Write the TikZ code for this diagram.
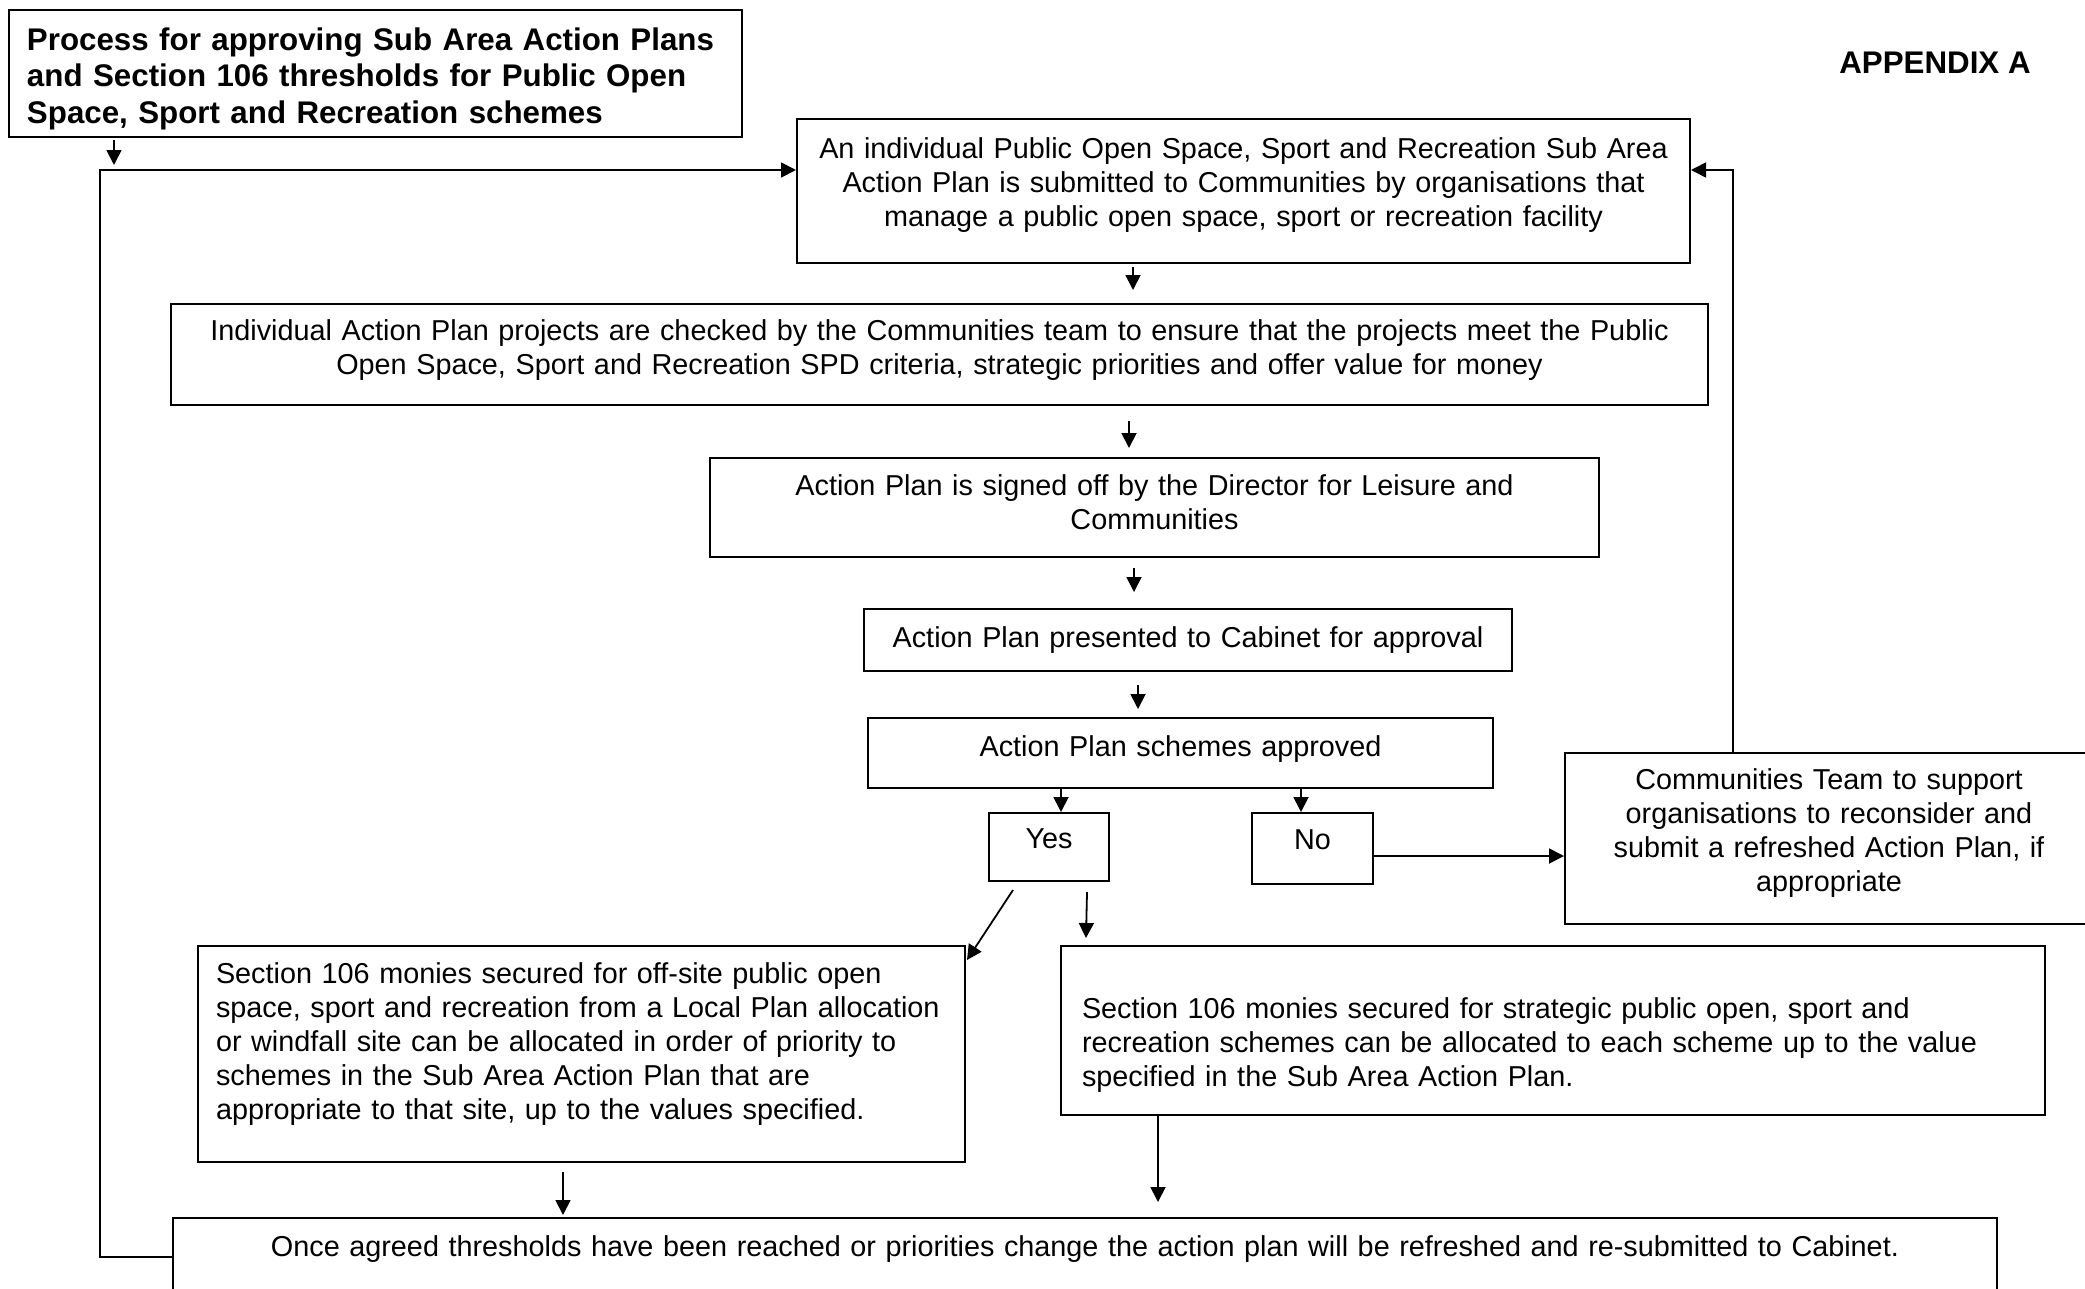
\documentclass[tikz,border=0pt]{standalone}
\usepackage{fontspec}
\setmainfont{Liberation Sans}
\usetikzlibrary{arrows.meta,calc}

\begin{document}
\begin{tikzpicture}[
        x=1pt, y=-1pt,
        box/.style={draw, line width=2pt, rectangle, inner xsep=5pt, inner ysep=0pt,
            font=\fontsize{28.8pt}{34.2pt}\selectfont},
        arr/.style={line width=1.8pt, -{Triangle[length=15pt, width=15pt]}}
    ]
    \useasboundingbox (0,0) rectangle (2085,1288);

    % Title and appendix
    \node[box, anchor=north west, inner xsep=18pt, text width=697pt, align=left,
        text height=40pt, text depth=87pt,
        font=\bfseries\fontsize{31.3pt}{36.5pt}\selectfont] (title) at (8,9)
        {Process for approving Sub Area Action Plans\\and Section 106 thresholds for Public Open\\Space, Sport and Recreation schemes};
    \node[font=\bfseries\fontsize{31.3pt}{36.5pt}\selectfont] (appendix) at (1935,63) {APPENDIX A};

    % Main column
    \node[box, anchor=north west, text width=883pt, align=center, text height=39pt, text depth=105pt] (submit) at (796,118)
        {An individual Public Open Space, Sport and Recreation Sub Area\\Action Plan is submitted to Communities by organisations that\\manage a public open space, sport or recreation facility};
    \node[box, anchor=north west, text width=1527pt, align=center, text height=36pt, text depth=65pt] (check) at (170,303)
        {Individual Action Plan projects are checked by the Communities team to ensure that the projects meet the Public\\Open Space, Sport and Recreation SPD criteria, strategic priorities and offer value for money};
    \node[box, anchor=north west, text width=879pt, align=center, text height=37pt, text depth=62pt] (signoff) at (709,457)
        {Action Plan is signed off by the Director for Leisure and\\Communities};
    \node[box, anchor=north west, text width=638pt, align=center, text height=38pt, text depth=24pt] (cabinet) at (863,608)
        {Action Plan presented to Cabinet for approval};
    \node[box, anchor=north west, text width=615pt, align=center, text height=38pt, text depth=32pt] (approved) at (867,717)
        {Action Plan schemes approved};

    % Decision
    \node[box, anchor=north west, text width=110pt, align=center, text height=35pt, text depth=33pt] (yes) at (988,812) {Yes};
    \node[box, anchor=north west, text width=111pt, align=center, text height=36pt, text depth=35pt] (no) at (1251,812) {No};
    \node[box, anchor=north west, text width=518pt, align=center, text height=36pt, text depth=135pt] (reconsider) at (1564,752)
        {Communities Team to support\\organisations to reconsider and\\submit a refreshed Action Plan, if\\appropriate};

    % Section 106 outcomes
    \node[box, anchor=north west, inner xsep=18pt, text width=731pt, align=left, text height=37pt, text depth=179pt] (offsite) at (197,945)
        {Section 106 monies secured for off-site public open\\space, sport and recreation from a Local Plan allocation\\or windfall site can be allocated in order of priority to\\schemes in the Sub Area Action Plan that are\\appropriate to that site, up to the values specified.};
    \node[box, anchor=north west, inner xsep=21pt, text width=942pt, align=left, text height=72pt, text depth=97pt] (strategic) at (1060,945)
        {Section 106 monies secured for strategic public open, sport and\\recreation schemes can be allocated to each scheme up to the value\\specified in the Sub Area Action Plan.};
    \node[box, anchor=north west, text width=1814pt, align=center, text height=38pt, text depth=101pt] (final) at (172,1217)
        {Once agreed thresholds have been reached or priorities change the action plan will be refreshed and re-submitted to Cabinet.};

    % Loops
    \coordinate (loop) at (100,170);
    \draw[arr] ($(title.south west)+(106,2)$) -- ($(loop)+(14,-5)$);
    \draw[arr] ($(final.north west)+(0,40)$) -| (loop) -- (submit.west |- loop);
    \draw[arr] ($(reconsider.north west)+(169,0)$) |- (submit.east |- loop);

    % Downward arrows
    \draw[arr] ($(submit.south)+(-110.5,3)$) -- ($(check.north)+(193.5,-13)$);
    \draw[arr] ($(check.south)+(189.5,15)$) -- ($(signoff.north)+(-25.5,-9)$);
    \draw[arr] ($(signoff.south)+(-20.5,10)$) -- ($(cabinet.north)+(-54,-16)$);
    \draw[arr] ($(cabinet.south)+(-50,13)$) -- ($(approved.north)+(-42.5,-8)$);
    \draw[arr] ($(approved.south)+(-119.5,0)$) -- ($(yes.north)+(12,0)$);
    \draw[arr] ($(approved.south)+(120.5,0)$) -- ($(no.north)+(-11.5,0)$);
    \draw[arr] ($(no.east)+(0,7.5)$) -- ($(reconsider.west)+(0,17.5)$);
    \draw[arr] ($(yes.south)+(-36,8)$) -- ($(offsite.north east)+(1,15)$);
    \draw[arr] ($(yes.south)+(38,10)$) -- ($(strategic.north west)+(26,-7)$);
    \draw[arr] ($(offsite.south)+(-18.5,9)$) -- ($(final.north)+(-522,-2)$);
    \draw[arr] ($(strategic.south)+(-395,0)$) -- ($(final.north)+(73,-15)$);

\end{tikzpicture}
\end{document}
